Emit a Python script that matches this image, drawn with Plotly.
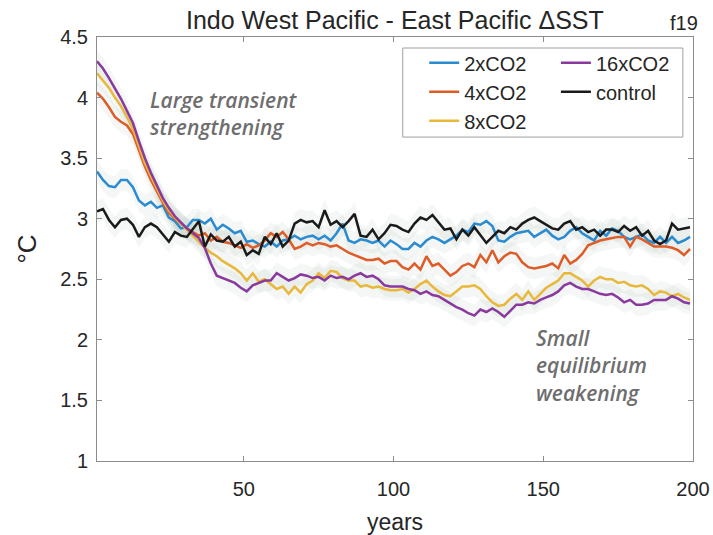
import plotly.graph_objects as go

years = list(range(1, 200, 2))

co2_2x = [3.39, 3.32, 3.27, 3.26, 3.32, 3.32, 3.26, 3.15, 3.11, 3.14,
          3.09, 3.11, 3.01, 2.98, 2.92, 2.93, 2.99, 2.99, 2.96, 3.00,
          2.91, 2.95, 2.92, 2.88, 2.90, 2.81, 2.82, 2.79, 2.77, 2.81,
          2.77, 2.82, 2.83, 2.86, 2.83, 2.85, 2.86, 2.83, 2.86, 2.82,
          2.88, 2.96, 2.82, 2.80, 2.83, 2.82, 2.80, 2.82, 2.77, 2.82,
          2.79, 2.75, 2.75, 2.80, 2.77, 2.82, 2.85, 2.83, 2.80, 2.83,
          2.86, 2.91, 2.89, 2.96, 2.95, 2.98, 2.94, 2.82, 2.81, 2.85,
          2.88, 2.89, 2.90, 2.85, 2.88, 2.91, 2.86, 2.83, 2.85, 2.90,
          2.93, 2.88, 2.85, 2.82, 2.90, 2.86, 2.92, 2.90, 2.85, 2.83,
          2.85, 2.87, 2.82, 2.80, 2.85, 2.80, 2.85, 2.80, 2.82, 2.85]

co2_4x = [4.04, 3.99, 3.92, 3.84, 3.80, 3.77, 3.70, 3.57, 3.43, 3.32,
          3.22, 3.13, 3.05, 3.00, 2.96, 2.92, 2.89, 2.86, 2.88, 2.82,
          2.85, 2.81, 2.80, 2.78, 2.76, 2.79, 2.76, 2.78, 2.82, 2.88,
          2.85, 2.89, 2.83, 2.75, 2.77, 2.80, 2.78, 2.80, 2.79, 2.77,
          2.78, 2.75, 2.72, 2.70, 2.68, 2.66, 2.66, 2.67, 2.63, 2.65,
          2.65, 2.60, 2.58, 2.63, 2.58, 2.69, 2.61, 2.63, 2.58, 2.53,
          2.56, 2.61, 2.63, 2.60, 2.70, 2.64, 2.74, 2.64, 2.69, 2.72,
          2.71, 2.64, 2.60, 2.59, 2.60, 2.61, 2.63, 2.59, 2.70, 2.63,
          2.66, 2.71, 2.78, 2.80, 2.82, 2.83, 2.84, 2.85, 2.85, 2.77,
          2.85, 2.83, 2.80, 2.77, 2.77, 2.77, 2.76, 2.74, 2.70, 2.75]

co2_8x = [4.20, 4.14, 4.08, 4.00, 3.93, 3.84, 3.74, 3.60, 3.46, 3.35,
          3.25, 3.15, 3.07, 3.01, 2.96, 2.91, 2.86, 2.81, 2.76, 2.72,
          2.69, 2.65, 2.62, 2.59, 2.55, 2.49, 2.55, 2.48, 2.50, 2.46,
          2.42, 2.44, 2.38, 2.44, 2.39, 2.46, 2.49, 2.55, 2.51, 2.57,
          2.56, 2.51, 2.49, 2.49, 2.44, 2.45, 2.43, 2.44, 2.42, 2.41,
          2.41, 2.42, 2.39, 2.42, 2.46, 2.49, 2.44, 2.40, 2.37, 2.36,
          2.40, 2.44, 2.44, 2.45, 2.42, 2.36, 2.31, 2.28, 2.29, 2.34,
          2.38, 2.33, 2.40, 2.33, 2.38, 2.43, 2.46, 2.49, 2.55, 2.55,
          2.52, 2.49, 2.44, 2.49, 2.52, 2.50, 2.50, 2.47, 2.48, 2.45,
          2.44, 2.45, 2.42, 2.37, 2.40, 2.39, 2.36, 2.38, 2.35, 2.33]

co2_16x = [4.30, 4.24, 4.16, 4.08, 3.99, 3.89, 3.79, 3.64, 3.50, 3.38,
           3.27, 3.17, 3.09, 3.02, 2.97, 2.92, 2.88, 2.84, 2.76, 2.63,
           2.53, 2.51, 2.49, 2.47, 2.43, 2.40, 2.45, 2.47, 2.49, 2.49,
           2.55, 2.52, 2.49, 2.51, 2.54, 2.53, 2.51, 2.52, 2.49, 2.53,
           2.51, 2.52, 2.50, 2.53, 2.55, 2.52, 2.53, 2.50, 2.45, 2.44,
           2.44, 2.44, 2.42, 2.41, 2.38, 2.40, 2.37, 2.36, 2.33, 2.30,
           2.27, 2.25, 2.22, 2.20, 2.25, 2.23, 2.26, 2.23, 2.19, 2.24,
           2.29, 2.29, 2.31, 2.30, 2.33, 2.35, 2.37, 2.40, 2.45, 2.47,
           2.44, 2.42, 2.42, 2.40, 2.38, 2.37, 2.38, 2.35, 2.31, 2.33,
           2.29, 2.29, 2.30, 2.33, 2.33, 2.33, 2.36, 2.34, 2.31, 2.30]

control = [3.06, 3.08, 2.99, 2.93, 2.99, 3.00, 2.95, 2.85, 2.93, 2.96,
           2.93, 2.87, 2.81, 2.89, 2.86, 2.85, 2.92, 2.98, 2.77, 2.87,
           2.82, 2.81, 2.85, 2.77, 2.81, 2.70, 2.74, 2.71, 2.85, 2.79,
           2.88, 2.77, 2.82, 2.96, 2.99, 2.97, 2.98, 2.93, 3.07, 2.95,
           2.98, 2.93, 2.98, 3.04, 2.86, 2.85, 2.91, 2.83, 2.88, 2.95,
           2.94, 2.91, 2.89, 2.96, 3.01, 2.99, 3.03, 2.97, 2.91, 2.92,
           2.83, 2.91, 2.86, 2.93, 2.86, 2.80, 2.85, 2.90, 2.88, 2.93,
           2.91, 2.96, 2.99, 3.01, 2.98, 2.95, 2.92, 2.91, 2.96, 2.98,
           2.91, 2.93, 2.89, 2.91, 2.86, 2.91, 2.91, 2.89, 2.94, 2.90,
           2.93, 2.86, 2.90, 2.82, 2.79, 2.82, 2.96, 2.91, 2.92, 2.93]

names = ["2xCO2", "4xCO2", "8xCO2", "16xCO2", "control"]
series = [co2_2x, co2_4x, co2_8x, co2_16x, control]
colors = ["#2b8bd0", "#de5c28", "#e9b83a", "#8a3a9e", "#1a1a1a"]
legend_ids = ["legend", "legend", "legend", "legend2", "legend2"]

x_ticks = [50, 100, 150, 200]
y_ticks = [1, 1.5, 2, 2.5, 3, 3.5, 4, 4.5]
y_tick_labels = ["1", "1.5", "2", "2.5", "3", "3.5", "4", "4.5"]

SPREAD = 0.09
BAND = "rgba(150,175,160,0.10)"
FONT = "Liberation Sans, Arial, sans-serif"

fig = go.Figure()

# faint ensemble-spread shading
for vals in series:
    fig.add_trace(go.Scatter(x=years + years[::-1],
                             y=[v + SPREAD for v in vals] + [v - SPREAD for v in vals[::-1]],
                             fill="toself", fillcolor=BAND, line=dict(width=0),
                             hoverinfo="skip", showlegend=False))

for name, vals, col, lg in zip(names, series, colors, legend_ids):
    fig.add_trace(go.Scatter(x=years, y=vals, mode="lines", name=name,
                             line=dict(color=col, width=2.5), legend=lg))

axis_common = dict(showline=True, linecolor="#8c8c8c", linewidth=1, mirror="ticks",
                   ticks="inside", ticklen=5, tickcolor="#8c8c8c", showgrid=False,
                   zeroline=False, automargin=False,
                   tickfont=dict(family=FONT, size=20, color="#262626"))

fig.update_xaxes(range=[1, 200], tickvals=x_ticks, ticklabelstandoff=10,
                 title=dict(text="years", font=dict(family=FONT, size=23, color="#262626"),
                            standoff=14),
                 **axis_common)
fig.update_yaxes(range=[1, 4.5], tickvals=y_ticks, ticktext=y_tick_labels,
                 ticklabelstandoff=4,
                 title=dict(text="°C", font=dict(family=FONT, size=26, color="#262626"),
                            standoff=16),
                 **axis_common)

leg_font = dict(family=FONT, size=20, color="#262626")
fig.update_layout(
    width=713, height=535,
    margin=dict(l=97, r=20, t=37, b=74),
    paper_bgcolor="white", plot_bgcolor="white",
    legend=dict(x=0.549, y=0.985, xanchor="left", yanchor="top", font=leg_font,
                bgcolor="rgba(0,0,0,0)", borderwidth=0, tracegroupgap=0,
                itemwidth=30),
    legend2=dict(x=0.770, y=0.985, xanchor="left", yanchor="top", font=leg_font,
                 bgcolor="rgba(0,0,0,0)", borderwidth=0, tracegroupgap=0,
                 itemwidth=30),
    shapes=[dict(type="rect", xref="paper", yref="paper", x0=0.513, x1=0.983,
                 y0=0.764, y1=0.974, line=dict(color="#a0a0a0", width=1))],
    annotations=[
        dict(text="Indo West Pacific - East Pacific ΔSST", xref="paper", yref="paper",
             x=0.5, y=1.0, xanchor="center", yanchor="bottom", yshift=1, showarrow=False,
             font=dict(family=FONT, size=25, color="#262626")),
        dict(text="f19", xref="paper", yref="paper", x=1.012, y=1.0,
             xanchor="right", yanchor="bottom", yshift=1, showarrow=False,
             font=dict(family=FONT, size=20, color="#262626")),
        dict(text="<i>Large transient<br>strengthening</i>", xref="x", yref="y",
             x=18, y=3.87, xanchor="left", yanchor="middle", align="left", showarrow=False,
             font=dict(family="Open Sans", size=21, color="#6e6e6e", weight=600)),
        dict(text="<i>Small<br>equilibrium<br>weakening</i>", xref="x", yref="y",
             x=147, y=1.79, xanchor="left", yanchor="middle", align="left", showarrow=False,
             font=dict(family="Open Sans", size=21, color="#6e6e6e", weight=600)),
    ],
)

fig.write_html("out.html")
